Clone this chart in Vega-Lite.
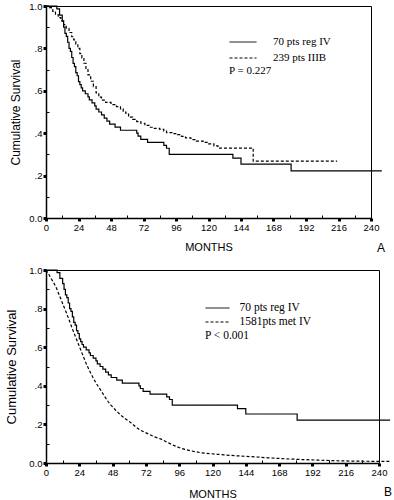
{
  "$schema": "https://vega.github.io/schema/vega-lite/v6.json",
  "background": "white",
  "padding": {"left": 5, "top": 0, "right": 2, "bottom": 0},
  "datasets": {
    "reg": [
      {"m": 0, "s": 1.0, "g": "70 pts reg IV"}, {"m": 8, "s": 0.986, "g": "70 pts reg IV"}, {"m": 10, "s": 0.957, "g": "70 pts reg IV"},
      {"m": 12, "s": 0.929, "g": "70 pts reg IV"}, {"m": 13, "s": 0.9, "g": "70 pts reg IV"}, {"m": 14, "s": 0.871, "g": "70 pts reg IV"},
      {"m": 15, "s": 0.857, "g": "70 pts reg IV"}, {"m": 16, "s": 0.829, "g": "70 pts reg IV"}, {"m": 17, "s": 0.8, "g": "70 pts reg IV"},
      {"m": 18, "s": 0.786, "g": "70 pts reg IV"}, {"m": 19, "s": 0.757, "g": "70 pts reg IV"}, {"m": 20, "s": 0.729, "g": "70 pts reg IV"},
      {"m": 21, "s": 0.714, "g": "70 pts reg IV"}, {"m": 22, "s": 0.686, "g": "70 pts reg IV"}, {"m": 23, "s": 0.671, "g": "70 pts reg IV"},
      {"m": 24, "s": 0.643, "g": "70 pts reg IV"}, {"m": 25, "s": 0.629, "g": "70 pts reg IV"}, {"m": 26, "s": 0.614, "g": "70 pts reg IV"},
      {"m": 27, "s": 0.6, "g": "70 pts reg IV"}, {"m": 29, "s": 0.586, "g": "70 pts reg IV"}, {"m": 31, "s": 0.571, "g": "70 pts reg IV"},
      {"m": 32, "s": 0.557, "g": "70 pts reg IV"}, {"m": 34, "s": 0.543, "g": "70 pts reg IV"}, {"m": 36, "s": 0.529, "g": "70 pts reg IV"},
      {"m": 37, "s": 0.514, "g": "70 pts reg IV"}, {"m": 39, "s": 0.5, "g": "70 pts reg IV"}, {"m": 41, "s": 0.486, "g": "70 pts reg IV"},
      {"m": 43, "s": 0.471, "g": "70 pts reg IV"}, {"m": 45, "s": 0.457, "g": "70 pts reg IV"}, {"m": 47, "s": 0.443, "g": "70 pts reg IV"},
      {"m": 51, "s": 0.429, "g": "70 pts reg IV"}, {"m": 55, "s": 0.414, "g": "70 pts reg IV"}, {"m": 67, "s": 0.4, "g": "70 pts reg IV"},
      {"m": 68, "s": 0.386, "g": "70 pts reg IV"}, {"m": 70, "s": 0.371, "g": "70 pts reg IV"}, {"m": 75, "s": 0.357, "g": "70 pts reg IV"},
      {"m": 87, "s": 0.343, "g": "70 pts reg IV"}, {"m": 89, "s": 0.329, "g": "70 pts reg IV"}, {"m": 91, "s": 0.3, "g": "70 pts reg IV"},
      {"m": 138, "s": 0.282, "g": "70 pts reg IV"}, {"m": 144, "s": 0.254, "g": "70 pts reg IV"}, {"m": 181, "s": 0.222, "g": "70 pts reg IV"},
      {"m": 248, "s": 0.222, "g": "70 pts reg IV"}
    ],
    "iiib": [
      {"m": 0, "s": 1.0, "g": "239 pts IIIB"}, {"m": 2.5, "s": 0.992, "g": "239 pts IIIB"}, {"m": 4, "s": 0.983, "g": "239 pts IIIB"},
      {"m": 5, "s": 0.975, "g": "239 pts IIIB"}, {"m": 7, "s": 0.96, "g": "239 pts IIIB"}, {"m": 9, "s": 0.945, "g": "239 pts IIIB"},
      {"m": 11, "s": 0.93, "g": "239 pts IIIB"}, {"m": 13, "s": 0.912, "g": "239 pts IIIB"}, {"m": 15, "s": 0.895, "g": "239 pts IIIB"},
      {"m": 17, "s": 0.875, "g": "239 pts IIIB"}, {"m": 19, "s": 0.855, "g": "239 pts IIIB"}, {"m": 20.5, "s": 0.84, "g": "239 pts IIIB"},
      {"m": 22, "s": 0.82, "g": "239 pts IIIB"}, {"m": 23.5, "s": 0.8, "g": "239 pts IIIB"}, {"m": 25, "s": 0.775, "g": "239 pts IIIB"},
      {"m": 26.5, "s": 0.755, "g": "239 pts IIIB"}, {"m": 28, "s": 0.73, "g": "239 pts IIIB"}, {"m": 29.5, "s": 0.7, "g": "239 pts IIIB"},
      {"m": 31, "s": 0.675, "g": "239 pts IIIB"}, {"m": 33, "s": 0.645, "g": "239 pts IIIB"}, {"m": 35, "s": 0.62, "g": "239 pts IIIB"},
      {"m": 37, "s": 0.59, "g": "239 pts IIIB"}, {"m": 39, "s": 0.57, "g": "239 pts IIIB"}, {"m": 41, "s": 0.556, "g": "239 pts IIIB"},
      {"m": 44, "s": 0.545, "g": "239 pts IIIB"}, {"m": 48, "s": 0.535, "g": "239 pts IIIB"}, {"m": 52, "s": 0.525, "g": "239 pts IIIB"},
      {"m": 55, "s": 0.515, "g": "239 pts IIIB"}, {"m": 57, "s": 0.5, "g": "239 pts IIIB"}, {"m": 59, "s": 0.49, "g": "239 pts IIIB"},
      {"m": 61, "s": 0.476, "g": "239 pts IIIB"}, {"m": 64, "s": 0.465, "g": "239 pts IIIB"}, {"m": 67, "s": 0.455, "g": "239 pts IIIB"},
      {"m": 70, "s": 0.447, "g": "239 pts IIIB"}, {"m": 73, "s": 0.437, "g": "239 pts IIIB"}, {"m": 76, "s": 0.428, "g": "239 pts IIIB"},
      {"m": 80, "s": 0.423, "g": "239 pts IIIB"}, {"m": 84, "s": 0.418, "g": "239 pts IIIB"}, {"m": 87, "s": 0.41, "g": "239 pts IIIB"},
      {"m": 89, "s": 0.403, "g": "239 pts IIIB"}, {"m": 93, "s": 0.398, "g": "239 pts IIIB"}, {"m": 97, "s": 0.393, "g": "239 pts IIIB"},
      {"m": 100, "s": 0.385, "g": "239 pts IIIB"}, {"m": 103, "s": 0.378, "g": "239 pts IIIB"}, {"m": 107, "s": 0.37, "g": "239 pts IIIB"},
      {"m": 111, "s": 0.363, "g": "239 pts IIIB"}, {"m": 116, "s": 0.357, "g": "239 pts IIIB"}, {"m": 120, "s": 0.35, "g": "239 pts IIIB"},
      {"m": 124, "s": 0.34, "g": "239 pts IIIB"}, {"m": 127, "s": 0.33, "g": "239 pts IIIB"}, {"m": 153, "s": 0.268, "g": "239 pts IIIB"},
      {"m": 215, "s": 0.268, "g": "239 pts IIIB"}
    ],
    "met": [
      {"m": 0, "s": 1.0, "g": "1581pts met IV"}, {"m": 2, "s": 0.978, "g": "1581pts met IV"}, {"m": 3.6, "s": 0.957, "g": "1581pts met IV"},
      {"m": 5.4, "s": 0.935, "g": "1581pts met IV"}, {"m": 7.2, "s": 0.912, "g": "1581pts met IV"}, {"m": 9, "s": 0.88, "g": "1581pts met IV"},
      {"m": 10.8, "s": 0.848, "g": "1581pts met IV"}, {"m": 12.6, "s": 0.815, "g": "1581pts met IV"}, {"m": 14.4, "s": 0.784, "g": "1581pts met IV"},
      {"m": 16.2, "s": 0.75, "g": "1581pts met IV"}, {"m": 18, "s": 0.715, "g": "1581pts met IV"}, {"m": 19.8, "s": 0.68, "g": "1581pts met IV"},
      {"m": 21.6, "s": 0.648, "g": "1581pts met IV"}, {"m": 23.4, "s": 0.615, "g": "1581pts met IV"}, {"m": 25.2, "s": 0.583, "g": "1581pts met IV"},
      {"m": 27, "s": 0.55, "g": "1581pts met IV"}, {"m": 28.8, "s": 0.518, "g": "1581pts met IV"}, {"m": 30.6, "s": 0.49, "g": "1581pts met IV"},
      {"m": 32.4, "s": 0.463, "g": "1581pts met IV"}, {"m": 34.2, "s": 0.438, "g": "1581pts met IV"}, {"m": 36, "s": 0.415, "g": "1581pts met IV"},
      {"m": 37.8, "s": 0.395, "g": "1581pts met IV"}, {"m": 39.6, "s": 0.375, "g": "1581pts met IV"}, {"m": 41.4, "s": 0.355, "g": "1581pts met IV"},
      {"m": 43.2, "s": 0.335, "g": "1581pts met IV"}, {"m": 45, "s": 0.316, "g": "1581pts met IV"}, {"m": 46.8, "s": 0.3, "g": "1581pts met IV"},
      {"m": 48.6, "s": 0.286, "g": "1581pts met IV"}, {"m": 50.4, "s": 0.272, "g": "1581pts met IV"}, {"m": 52.2, "s": 0.26, "g": "1581pts met IV"},
      {"m": 54, "s": 0.247, "g": "1581pts met IV"}, {"m": 57.7, "s": 0.227, "g": "1581pts met IV"}, {"m": 61.3, "s": 0.208, "g": "1581pts met IV"},
      {"m": 64.9, "s": 0.186, "g": "1581pts met IV"}, {"m": 68.5, "s": 0.168, "g": "1581pts met IV"}, {"m": 73.3, "s": 0.152, "g": "1581pts met IV"},
      {"m": 78, "s": 0.136, "g": "1581pts met IV"}, {"m": 82.9, "s": 0.124, "g": "1581pts met IV"}, {"m": 87.7, "s": 0.106, "g": "1581pts met IV"},
      {"m": 92.5, "s": 0.09, "g": "1581pts met IV"}, {"m": 97.3, "s": 0.076, "g": "1581pts met IV"}, {"m": 104.5, "s": 0.063, "g": "1581pts met IV"},
      {"m": 111.7, "s": 0.053, "g": "1581pts met IV"}, {"m": 123.7, "s": 0.045, "g": "1581pts met IV"}, {"m": 135.7, "s": 0.038, "g": "1581pts met IV"},
      {"m": 147.7, "s": 0.033, "g": "1581pts met IV"}, {"m": 159.8, "s": 0.027, "g": "1581pts met IV"}, {"m": 171.8, "s": 0.022, "g": "1581pts met IV"},
      {"m": 183.8, "s": 0.018, "g": "1581pts met IV"}, {"m": 195.8, "s": 0.015, "g": "1581pts met IV"}, {"m": 207.8, "s": 0.012, "g": "1581pts met IV"},
      {"m": 219.8, "s": 0.01, "g": "1581pts met IV"}, {"m": 231.8, "s": 0.009, "g": "1581pts met IV"}, {"m": 248.6, "s": 0.008, "g": "1581pts met IV"}
    ]
  },
  "config": {
    "view": {"stroke": "black", "strokeWidth": 1},
    "axis": {
      "grid": false, "domainColor": "black", "domainWidth": 1.5, "tickColor": "black",
      "labelColor": "black", "labelFont": "Liberation Sans", "labelFontSize": 9.5,
      "titleFont": "Liberation Sans", "titleColor": "black", "titleFontWeight": "normal"
    },
    "legend": {
      "orient": "none", "symbolType": "M-1.8,0H1.8", "symbolSize": 225, "symbolStrokeWidth": 1,
      "symbolStrokeColor": "black", "symbolOffset": 6, "labelFont": "Liberation Serif", "labelFontSize": 11, "labelColor": "black",
      "labelOffset": 22, "titleOrient": "bottom", "titleFont": "Liberation Serif", "titleFontSize": 11,
      "titleFontWeight": "normal", "titleColor": "black", "titleAnchor": "start", "titlePadding": 2, "rowPadding": 3
    }
  },
  "spacing": 10,
  "resolve": {
    "scale": {"strokeDash": "independent", "x": "independent", "y": "independent"},
    "legend": {"strokeDash": "independent"}
  },
  "vconcat": [
    {
      "width": 325, "height": 212,
      "title": {"text": "A", "orient": "bottom", "anchor": "end", "frame": "group", "offset": -10, "dx": 14,
        "font": "Liberation Sans", "fontSize": 12, "fontWeight": "normal", "color": "black"},
      "encoding": {
        "x": {"field": "m", "type": "quantitative", "title": "MONTHS",
          "scale": {"domain": [0, 240], "nice": false},
          "axis": {
            "values": [0, 12, 24, 36, 48, 60, 72, 84, 96, 108, 120, 132, 144, 156, 168, 180, 192, 204, 216, 228, 240],
            "labelExpr": "datum.value % 24 === 0 ? datum.label : ''",
            "tickSize": {"condition": {"test": "datum.value % 24 === 0", "value": 3}, "value": -3},
            "tickWidth": {"condition": {"test": "datum.value % 24 === 0", "value": 3}, "value": 1},
            "labelPadding": 1, "labelFlush": false, "labelOverlap": false, "titlePadding": 10, "titleFontSize": 11
          }},
        "y": {"field": "s", "type": "quantitative", "title": "Cumulative Survival",
          "scale": {"domain": [0, 1], "nice": false},
          "axis": {
            "values": [0, 0.1, 0.2, 0.3, 0.4, 0.5, 0.6, 0.7, 0.8, 0.9, 1],
            "labelExpr": "round(datum.value*10) % 2 !== 0 ? '' : (datum.value === 0 ? '0.0' : (datum.value === 1 ? '1.0' : '.' + round(datum.value*10)))",
            "tickSize": {"condition": {"test": "round(datum.value*10) % 2 === 0", "value": 3}, "value": -3},
            "tickWidth": {"condition": {"test": "round(datum.value*10) % 2 === 0", "value": 3}, "value": 1},
            "labelPadding": 1, "labelFlush": false, "labelOverlap": false, "titlePadding": 6, "titleFontSize": 12
          }},
        "strokeDash": {"field": "g", "type": "nominal",
          "scale": {"domain": ["70 pts reg IV", "239 pts IIIB"], "range": [[1, 0], [3, 2]]},
          "legend": {"legendX": 183, "legendY": 28, "title": "P = 0.227"}}
      },
      "layer": [
        {"data": {"name": "reg"}, "mark": {"type": "line", "interpolate": "step-after", "color": "black", "strokeWidth": 1.2, "clip": false}},
        {"data": {"name": "iiib"}, "mark": {"type": "line", "interpolate": "step-after", "color": "black", "strokeWidth": 1.2, "clip": false}}
      ]
    },
    {
      "width": 333, "height": 193,
      "title": {"text": "B", "orient": "bottom", "anchor": "end", "frame": "group", "offset": -13, "dx": 13,
        "font": "Liberation Sans", "fontSize": 12, "fontWeight": "normal", "color": "black"},
      "encoding": {
        "x": {"field": "m", "type": "quantitative", "title": "MONTHS",
          "scale": {"domain": [0, 240], "nice": false},
          "axis": {
            "values": [0, 12, 24, 36, 48, 60, 72, 84, 96, 108, 120, 132, 144, 156, 168, 180, 192, 204, 216, 228, 240],
            "labelExpr": "datum.value % 24 === 0 ? datum.label : ''",
            "tickSize": {"condition": {"test": "datum.value % 24 === 0", "value": 3}, "value": -3},
            "tickWidth": {"condition": {"test": "datum.value % 24 === 0", "value": 3}, "value": 1},
            "labelPadding": 1, "labelFlush": false, "labelOverlap": false, "titlePadding": 12, "titleFontSize": 11
          }},
        "y": {"field": "s", "type": "quantitative", "title": "Cumulative Survival",
          "scale": {"domain": [0, 1], "nice": false},
          "axis": {
            "values": [0, 0.1, 0.2, 0.3, 0.4, 0.5, 0.6, 0.7, 0.8, 0.9, 1],
            "labelExpr": "round(datum.value*10) % 2 !== 0 ? '' : (datum.value === 0 ? '0.0' : (datum.value === 1 ? '1.0' : '.' + round(datum.value*10)))",
            "tickSize": {"condition": {"test": "round(datum.value*10) % 2 === 0", "value": 3}, "value": -3},
            "tickWidth": {"condition": {"test": "round(datum.value*10) % 2 === 0", "value": 3}, "value": 1},
            "labelPadding": 1, "labelFlush": false, "labelOverlap": false, "titlePadding": 10, "titleFontSize": 13
          }},
        "strokeDash": {"field": "g", "type": "nominal",
          "scale": {"domain": ["70 pts reg IV", "1581pts met IV"], "range": [[1, 0], [3, 2]]},
          "legend": {"legendX": 159, "legendY": 30, "title": "P < 0.001", "symbolType": "M-1.6,0H1.6", "symbolOffset": 4.5,
            "labelOffset": 14, "labelFontSize": 11.5, "titleFontSize": 11.5, "rowPadding": 0}}
      },
      "layer": [
        {"data": {"name": "reg"}, "mark": {"type": "line", "interpolate": "step-after", "color": "black", "strokeWidth": 1.2, "clip": false}},
        {"data": {"name": "met"}, "mark": {"type": "line", "interpolate": "linear", "color": "black", "strokeWidth": 1.2, "clip": false}}
      ]
    }
  ]
}
